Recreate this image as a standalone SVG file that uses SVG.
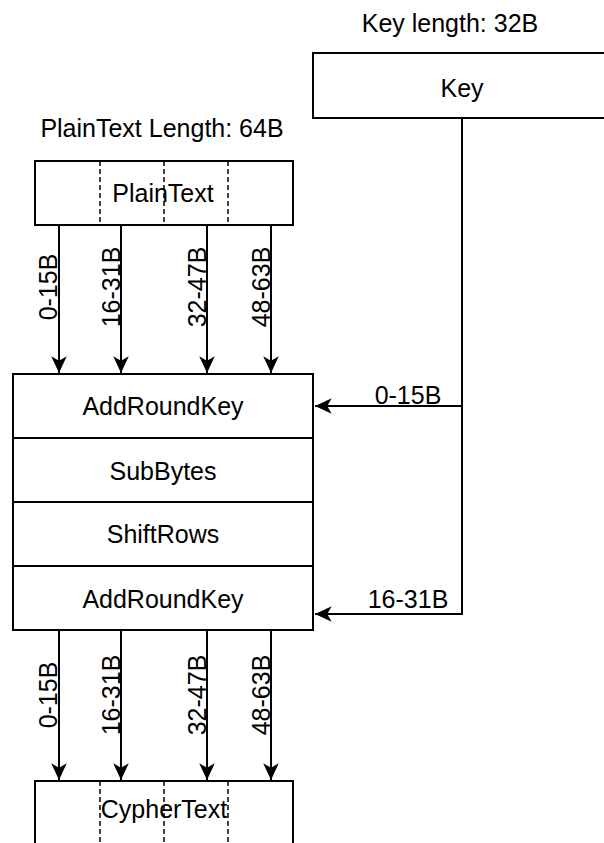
<svg xmlns="http://www.w3.org/2000/svg" width="604" height="843" viewBox="0 0 604 843">
<style>
.box{fill:#fff;stroke:#000;stroke-width:2}
.dash{stroke:#000;stroke-width:1.5;stroke-dasharray:5 3;fill:none}
.edge{stroke:#000;stroke-width:2;fill:none;marker-end:url(#arr)}
.line{stroke:#000;stroke-width:2;fill:none}
text{font-family:"Liberation Sans",Arial,Helvetica,sans-serif;font-size:25px;fill:#000}
.c{text-anchor:middle}
</style>
<defs>
<marker id="arr" markerUnits="userSpaceOnUse" markerWidth="20" markerHeight="20" viewBox="-16 -8 18 16" refX="0" refY="0" orient="auto">
<path d="M0,0 L-15,-7 L-11,0 L-15,7 Z" fill="#000"/>
</marker>
</defs>
<g id="key-label"><text class="c" x="450" y="32">Key length: 32B</text></g>
<g id="key"><rect class="box" x="313" y="53" width="298" height="65"/><text class="c" x="462" y="97">Key</text></g>
<g id="plaintext-label"><text class="c" x="162" y="137">PlainText Length: 64B</text></g>
<g id="plaintext">
<rect class="box" x="35" y="161" width="258" height="64"/>
<line class="dash" x1="100" y1="161" x2="100" y2="225"/>
<line class="dash" x1="164" y1="161" x2="164" y2="225"/>
<line class="dash" x1="228" y1="161" x2="228" y2="225"/>
<text class="c" x="163" y="202">PlainText</text>
</g>
<g id="rounds">
<rect class="box" x="13" y="374" width="300" height="256"/>
<line class="line" x1="13" y1="438" x2="313" y2="438"/>
<line class="line" x1="13" y1="502" x2="313" y2="502"/>
<line class="line" x1="13" y1="566" x2="313" y2="566"/>
<text class="c" x="163" y="415">AddRoundKey</text>
<text class="c" x="163" y="480">SubBytes</text>
<text class="c" x="163" y="543">ShiftRows</text>
<text class="c" x="163" y="608">AddRoundKey</text>
</g>
<g id="cyphertext">
<rect class="box" x="35" y="781" width="258" height="80"/>
<line class="dash" x1="100" y1="781" x2="100" y2="843"/>
<line class="dash" x1="164" y1="781" x2="164" y2="843"/>
<line class="dash" x1="228" y1="781" x2="228" y2="843"/>
<text class="c" x="164" y="818">CypherText</text>
</g>
<g id="connectors">
<path class="edge" d="M59,225 V373"/>
<path class="edge" d="M121,225 V373"/>
<path class="edge" d="M207,225 V373"/>
<path class="edge" d="M271,225 V373"/>
<path class="edge" d="M59,630 V780"/>
<path class="edge" d="M121,630 V780"/>
<path class="edge" d="M207,630 V780"/>
<path class="edge" d="M271,630 V780"/>
<path class="edge" d="M462,118 V406 H315"/>
<path class="edge" d="M462,406 V614 H315"/>
</g>
<g id="labels">
<text class="c" transform="translate(57,287) rotate(-90)">0-15B</text>
<text class="c" transform="translate(120,287) rotate(-90)">16-31B</text>
<text class="c" transform="translate(206,287) rotate(-90)">32-47B</text>
<text class="c" transform="translate(270,287) rotate(-90)">48-63B</text>
<text class="c" transform="translate(57,695) rotate(-90)">0-15B</text>
<text class="c" transform="translate(120,695) rotate(-90)">16-31B</text>
<text class="c" transform="translate(206,695) rotate(-90)">32-47B</text>
<text class="c" transform="translate(270,695) rotate(-90)">48-63B</text>
<text class="c" x="408" y="404">0-15B</text>
<text class="c" x="408" y="608">16-31B</text>
</g>
</svg>
